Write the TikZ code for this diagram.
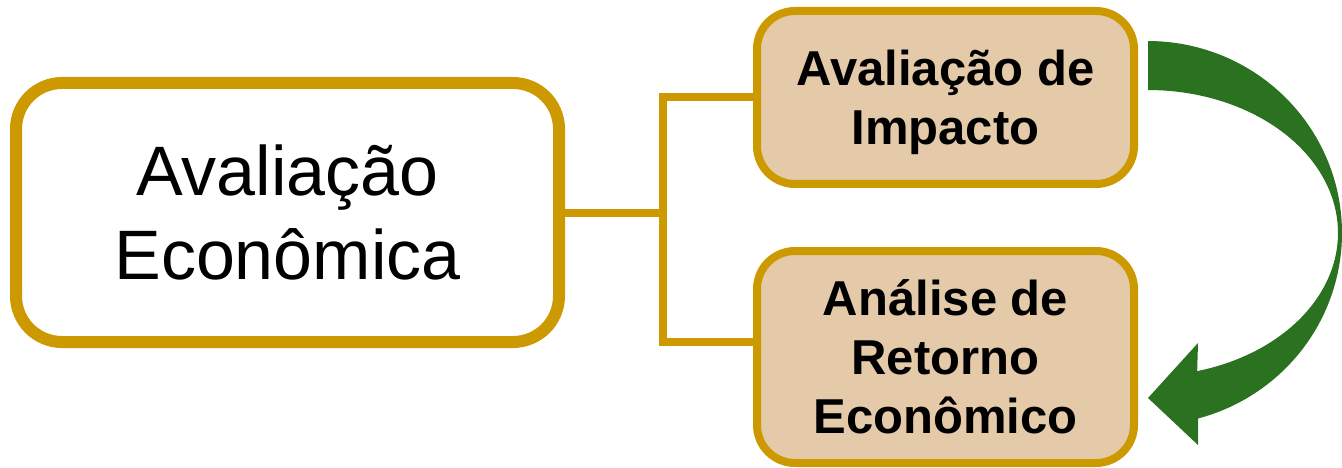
\documentclass[tikz,border=0pt]{standalone}
\usepackage{fontspec}
\setmainfont{Liberation Sans}
\definecolor{gold}{RGB}{204,153,0}
\definecolor{tan}{RGB}{228,202,169}
\definecolor{arrowgreen}{RGB}{43,114,32}
\begin{document}
\begin{tikzpicture}[x=1pt,y=-1pt,
  mainbox/.style={draw=gold, fill=white, line width=12pt, rounded corners=46pt,
    minimum width=543pt, minimum height=259pt, inner sep=0pt, align=center,
    font=\fontsize{70}{84}\selectfont},
  subbox/.style={draw=gold, fill=tan, line width=8pt, rounded corners=38pt,
    minimum width=377pt, inner sep=0pt, align=center,
    font=\bfseries\fontsize{49}{59}\selectfont},
  conn/.style={draw=gold, line width=8pt}]
\useasboundingbox (0,0) rectangle (1342,468);

% boxes
\node[mainbox] (L) at (287.5,212.5) {Avaliação\\Econômica};
\node[subbox, minimum height=173pt] (T) at (945.5,97.5)
  {Avaliação de\\\raisebox{0pt}[\height][0pt]{Impacto}};
\node[subbox, minimum height=212pt] (B) at (945.5,357)
  {Análise de\\Retorno\\Econômico};

% bracket connector
\coordinate (jb) at (663,342);
\draw[conn] (L.east) -- (L.east -| jb);
\draw[conn] (T.west) -| (jb) -- (jb -| B.west);

% curved arrow from the upper box round to the lower one
\fill[arrowgreen]
  plot[domain=-90:75, samples=80, variable=\t] ({1148+194*cos(\t)},{233+192*sin(\t)})
  -- (1198,445) -- (1148,398) -- (1198,343)
  -- plot[domain=75:-90, samples=80, variable=\t] ({1148+190*cos(\t)},{233+143*sin(\t)})
  -- cycle;
\end{tikzpicture}
\end{document}
